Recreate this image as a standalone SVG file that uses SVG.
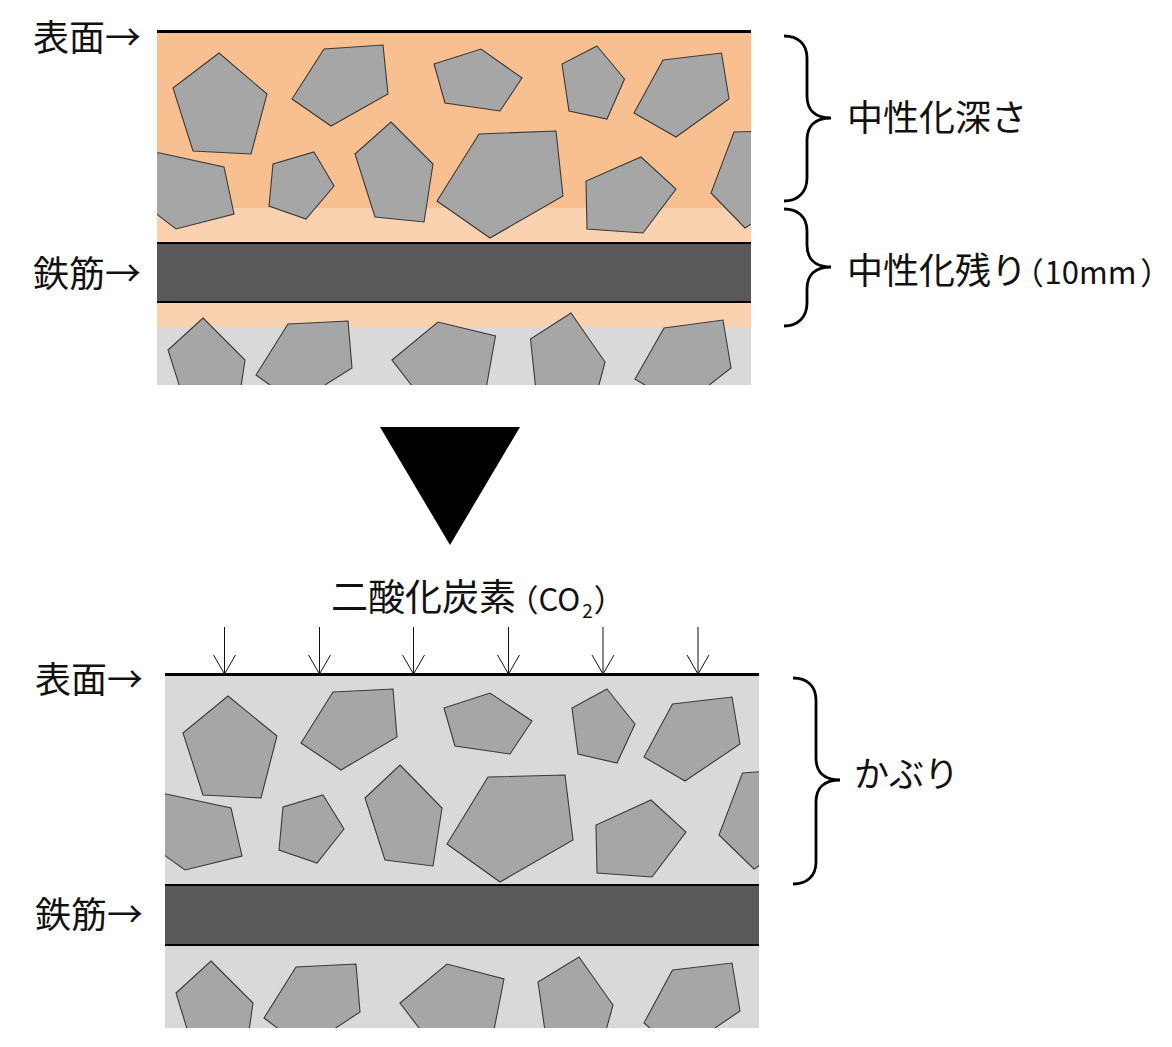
<svg xmlns="http://www.w3.org/2000/svg" width="1172" height="1047" viewBox="0 0 1172 1047">
<style>
text{font-family:"Noto Sans CJK JP","Noto Sans",sans-serif;font-size:36px;fill:#111}
.stone{fill:#a6a6a6;stroke:#3a3a3a;stroke-width:1.1;stroke-linejoin:miter}
.brace{fill:none;stroke:#000;stroke-width:2.8}
.rule{stroke:#000;stroke-width:2;fill:none}
.surface{stroke:#000;stroke-width:3;fill:none}
.co2{stroke:#111;stroke-width:1;fill:none}
.latin{font-size:31px}
.paren{font-size:31px;font-feature-settings:"palt"}
</style>
<defs>
<clipPath id="clipTop"><rect x="157" y="31" width="594" height="354"/></clipPath>
<clipPath id="clipBottom"><rect x="165" y="674" width="594" height="354"/></clipPath>
</defs>
<g id="panel-top">
<rect x="157" y="31" width="594" height="177" fill="#f8c090"/>
<rect x="157" y="208" width="594" height="35" fill="#fbd2b0"/>
<rect x="157" y="243" width="594" height="59" fill="#595959"/>
<rect x="157" y="302" width="594" height="25" fill="#fbd2b0"/>
<rect x="157" y="327" width="594" height="58" fill="#d9d9d9"/>
<g clip-path="url(#clipTop)">
<polygon class="stone" points="219,53 267,94 251,154 193,151 173,88"/>
<polygon class="stone" points="324,49 383,45 388,94 331,126 292,99"/>
<polygon class="stone" points="434,64 481,49 522,78 500,111 445,103"/>
<polygon class="stone" points="597,46 624.500,79 607,119 569,111 562,64"/>
<polygon class="stone" points="663,60 721.500,53 729,99 676,137 634,113"/>
<polygon class="stone" points="160,153 224,167 234,214 176,229 150,209 150,152"/>
<polygon class="stone" points="314,152 334,186 306,219 269,206 273,164"/>
<polygon class="stone" points="391,122 433,164 424,222 375,217 355,154"/>
<polygon class="stone" points="479,134 556,131 563,196 490,238 437,201"/>
<polygon class="stone" points="641,157 676,189 643,233 587,229 586,181"/>
<polygon class="stone" points="734,132 765,131 765,215 745,228 711,193"/>
<polygon class="stone" points="203,318 245,360 239,400 184,400 168,350"/>
<polygon class="stone" points="288,324 348,321 352,368 301,400 291,400 256,375"/>
<polygon class="stone" points="392,360 438,322 495.500,336 484,400 423,400"/>
<polygon class="stone" points="571,313 605,362 595,400 537,400 530.500,339"/>
<polygon class="stone" points="664,328 723,320 731,368 690,400 670,400 635,379"/>
</g>
<line class="surface" x1="157" y1="31.500" x2="751" y2="31.500"/>
<line class="rule" x1="157" y1="243" x2="751" y2="243"/>
<line class="rule" x1="157" y1="302" x2="751" y2="302"/>
</g>
<polygon id="down-triangle" points="380,427 520,427 450,545" fill="#000"/>
<g id="panel-bottom">
<rect x="165" y="674" width="594" height="211" fill="#d9d9d9"/>
<rect x="165" y="885" width="594" height="60" fill="#595959"/>
<rect x="165" y="945" width="594" height="83" fill="#d9d9d9"/>
<g clip-path="url(#clipBottom)">
<polygon class="stone" points="228,696 277,736 261,798 203,795 183,733"/>
<polygon class="stone" points="333,692 393,689 397,737 341,770 301,743"/>
<polygon class="stone" points="444,708 490,693 532,721 510,754 455,746"/>
<polygon class="stone" points="607,689 635,724 617,763 578,754 572,708"/>
<polygon class="stone" points="672.500,704 732,697 740,744 685,781 644,757"/>
<polygon class="stone" points="166,794 231,808 242,856 185,870 160,852 155,793"/>
<polygon class="stone" points="323,795 344,829 317,863 279,850 283,807"/>
<polygon class="stone" points="400,765 442,808 433,866 385,860 365,798"/>
<polygon class="stone" points="488,777 565,775 573,840 500,882 447,844"/>
<polygon class="stone" points="651,800 686,832 652,877 597,873 596,825"/>
<polygon class="stone" points="742.500,773 770,771 770,859 754,869 719,835"/>
<polygon class="stone" points="211,961 253,1003 247,1045 192,1045 176,993"/>
<polygon class="stone" points="296,967 356,964 360,1012 310,1045 300,1045 264,1018"/>
<polygon class="stone" points="400,1003 447,964 504,979 491,1045 432,1045"/>
<polygon class="stone" points="579,957 613,1005 602,1045 547,1045 538,982"/>
<polygon class="stone" points="672.500,970 732,963 740,1011 690,1045 670,1045 644,1023"/>
</g>
<line class="surface" x1="165" y1="674.500" x2="759" y2="674.500"/>
<line class="rule" x1="165" y1="885" x2="759" y2="885"/>
<line class="rule" x1="165" y1="945" x2="759" y2="945"/>
</g>
<g id="connectors">
<path class="co2" d="M224.500 627V673M213.500 655L224.500 674L235.500 655"/>
<path class="co2" d="M319.500 627V673M308.500 655L319.500 674L330.500 655"/>
<path class="co2" d="M413.500 627V673M402.500 655L413.500 674L424.500 655"/>
<path class="co2" d="M508.500 627V673M497.500 655L508.500 674L519.500 655"/>
<path class="co2" d="M603 627V673M592 655L603 674L614 655"/>
<path class="co2" d="M698 627V673M687 655L698 674L709 655"/>
<path class="brace" d="M784 36C798 36 807 44 807 58V96C807 110 815 118 831 118C815 118 807 126 807 140V178C807 192 798 201 784 201"/>
<path class="brace" d="M784 209C798 209 807 217 807 231V245C807 259 815 267 831 267C815 267 807 275 807 289V303C807 317 798 326 784 326"/>
<path class="brace" d="M793 678C807 678 816 686 816 700V758C816 772 824 780 840 780C824 780 816 788 816 802V862C816 876 807 884 793 884"/>
</g>
<g id="labels">
<text x="33" y="51">表面→</text>
<text x="33" y="287">鉄筋→</text>
<text x="847" y="131">中性化深さ</text>
<text x="847" y="284">中性化残り<tspan class="paren">（</tspan><tspan class="latin" dx="2">10mm</tspan><tspan class="paren" dx="5">）</tspan></text>
<text x="331" y="611" style="font-size:37px">二酸化炭素<tspan class="paren" dx="6">（</tspan><tspan class="latin" dx="1">CO</tspan><tspan dx="2" dy="7" style="font-size:19px">2</tspan><tspan class="paren" dx="2" dy="-7">）</tspan></text>
<text x="35" y="693">表面→</text>
<text x="35" y="928">鉄筋→</text>
<text x="854" y="787" style="font-size:35px">かぶり</text>
</g>
</svg>
